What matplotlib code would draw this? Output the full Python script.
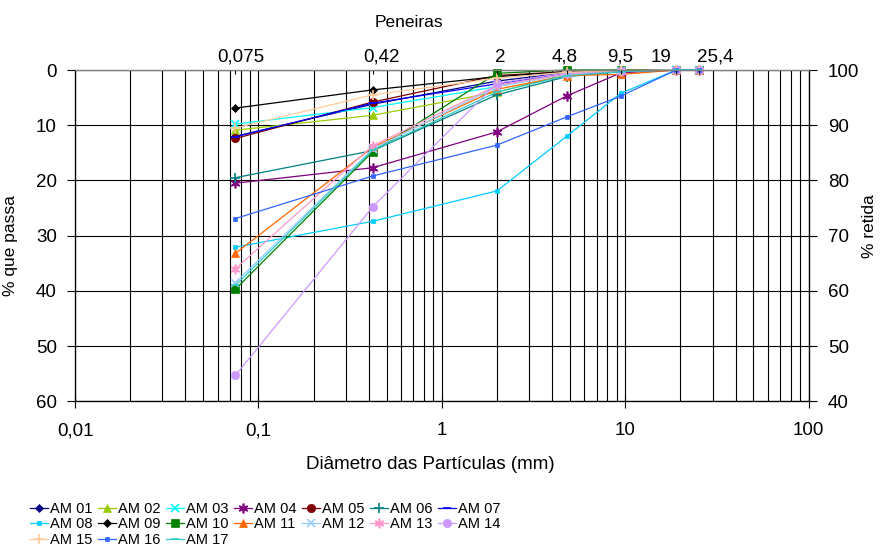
import numpy as np
import matplotlib
matplotlib.use("Agg")
import matplotlib.pyplot as plt
from matplotlib.transforms import ScaledTranslation
from matplotlib.ticker import FixedLocator, NullFormatter, NullLocator

plt.rcParams["font.family"] = ["Liberation Sans", "DejaVu Sans"]

# sieve openings (mm)
sieves = [0.075, 0.42, 2, 4.8, 9.5, 19, 25.4]
sieve_labels = ["0,075", "0,42", "2", "4,8", "9,5", "19", "25,4"]

# % retained per sample (left axis, plotted inverted)
am01 = [12.0, 6.2, 2.0, 0.5, 0.2, 0, 0]
am02 = [10.9, 8.2, 4.0, 0.8, 0.2, 0, 0]
am03 = [9.8, 6.8, 3.0, 0.6, 0.2, 0, 0]
am04 = [20.5, 17.7, 11.2, 4.7, 0.5, 0, 0]
am05 = [12.4, 5.8, 1.0, 0.3, 0.1, 0, 0]
am06 = [19.5, 14.6, 4.5, 1.2, 0.3, 0, 0]
am07 = [12.1, 6.0, 2.5, 0.6, 0.2, 0, 0]
am08 = [32.1, 27.4, 21.9, 12.0, 4.2, 0, 0]
am09 = [6.9, 3.6, 1.2, 0.3, 0.1, 0, 0]
am10 = [39.7, 14.8, 0.6, 0.0, 0.0, 0, 0]
am11 = [33.2, 14.0, 3.5, 1.0, 0.8, 0, 0]
am12 = [38.5, 14.3, 3.0, 0.8, 0.2, 0, 0]
am13 = [36.0, 13.7, 2.8, 0.7, 0.2, 0, 0]
am14 = [55.3, 24.8, 2.4, 0.5, 0.2, 0, 0]
am15 = [10.5, 4.5, 1.5, 0.4, 0.1, 0, 0]
am16 = [26.9, 19.2, 13.6, 8.5, 4.7, 0, 0]
am17 = [39.0, 14.5, 4.0, 1.0, 0.3, 0, 0]

series = [am01, am02, am03, am04, am05, am06, am07, am08, am09,
          am10, am11, am12, am13, am14, am15, am16, am17]
names = [f"AM {i:02d}" for i in range(1, 18)]

asterisk = (6, 2, 0)
styles = [
    ("#000080", "D", 4), ("#99CC00", "^", 6), ("#00FFFF", "x", 6),
    ("#800080", asterisk, 7), ("#800000", "o", 6), ("#008080", "+", 7),
    ("#0000FF", "_", 6), ("#00CCFF", "s", 3), ("#000000", "D", 4),
    ("#008000", "s", 6), ("#FF6600", "^", 6), ("#99CCFF", "x", 6),
    ("#FF99CC", asterisk, 7), ("#CC99FF", "o", 6), ("#FFCC99", "+", 7),
    ("#3366FF", "s", 2.5), ("#33CCCC", "_", 6),
]

# pixel nudges of top labels, as in the original sheet
top_label_shift_px = [5, 9, 3, -2, -1, -15, 16]

fig = plt.figure(figsize=(8.85, 5.49), dpi=100)
ax = fig.add_axes([75 / 885, 1 - 401.3 / 549, 733.5 / 885, 331.3 / 549])

lines = []
for vals, name, (c, m, ms) in zip(series, names, styles):
    thin = m in ("x", "+", "_") or m == asterisk
    ln, = ax.plot(sieves, vals, color=c, marker=m, markersize=ms, linewidth=0.9,
                  markeredgewidth=1.2 if thin else 0.5, label=name, clip_on=False)
    lines.append(ln)

ax.set_xscale("log")
ax.set_xlim(0.01, 100)
ax.set_ylim(60, 0)
ax.set_yticks(np.arange(0, 61, 10))
ax.set_xticks([0.01, 0.1, 1, 10, 100])
ax.set_xticklabels(["0,01", "0,1", "1", "10", "100"])
minor = [m * 10.0 ** e for e in range(-2, 2) for m in range(2, 10)]
ax.xaxis.set_minor_locator(FixedLocator(minor))
ax.xaxis.set_minor_formatter(NullFormatter())
ax.grid(True, which="both", axis="x", color="black", linewidth=0.8)
ax.grid(True, which="major", axis="y", color="black", linewidth=0.8)
ax.tick_params(axis="x", which="major", direction="inout", length=10, width=0.8, pad=10, labelsize=13.5)
ax.tick_params(axis="x", which="minor", length=0)
ax.tick_params(axis="y", direction="out", length=6, width=0.8, pad=7, labelsize=13.5)
for s in ax.spines.values():
    s.set_linewidth(0.8)
ax.spines["top"].set_color("#808080")

ax.set_xlabel("Diâmetro das Partículas (mm)", fontsize=13.5)
ax.xaxis.set_label_coords(0.485, -0.165)
ax.set_ylabel("% que passa", fontsize=12.5)
ax.yaxis.set_label_coords(-0.078, 0.47)

# right axis: % retida
axr = ax.twinx()
axr.set_ylim(40, 100)
axr.set_yticks(np.arange(40, 101, 10))
axr.tick_params(axis="y", direction="out", length=6, width=0.8, pad=8, labelsize=13.5)
axr.set_ylabel("% retida", fontsize=12.5)
axr.yaxis.set_label_coords(1.073, 0.53)

# top axis: sieves
axt = ax.twiny()
axt.set_xscale("log")
axt.set_xlim(0.01, 100)
axt.set_xticks(sieves)
axt.set_xticklabels(sieve_labels)
axt.xaxis.set_minor_locator(NullLocator())
axt.tick_params(axis="x", direction="in", length=3, width=0.8, pad=3, labelsize=13.5)
for lbl, dx in zip(axt.get_xticklabels(), top_label_shift_px):
    lbl.set_transform(lbl.get_transform() + ScaledTranslation(dx / 100, 0, fig.dpi_scale_trans))
axt.set_xlabel("Peneiras", fontsize=12.5)
axt.xaxis.set_label_coords(0.455, 1.13)
for a in (axr, axt):
    for s in a.spines.values():
        s.set_linewidth(0.8)
axt.spines["top"].set_color("#808080")

# legend filled row by row (7 per row)
ncol = 7
order = [i for c in range(ncol) for i in range(c, len(lines), ncol)]
ax.legend([lines[i] for i in order], [names[i] for i in order],
          loc="upper left", bbox_to_anchor=(30 / 885, 1 - 502 / 549),
          bbox_transform=fig.transFigure, ncol=ncol, frameon=False,
          fontsize=10.5, handlelength=1.2, handletextpad=0.15,
          columnspacing=0.4, labelspacing=0.1, borderpad=0, borderaxespad=0)

fig.savefig("out.png", dpi=100)
